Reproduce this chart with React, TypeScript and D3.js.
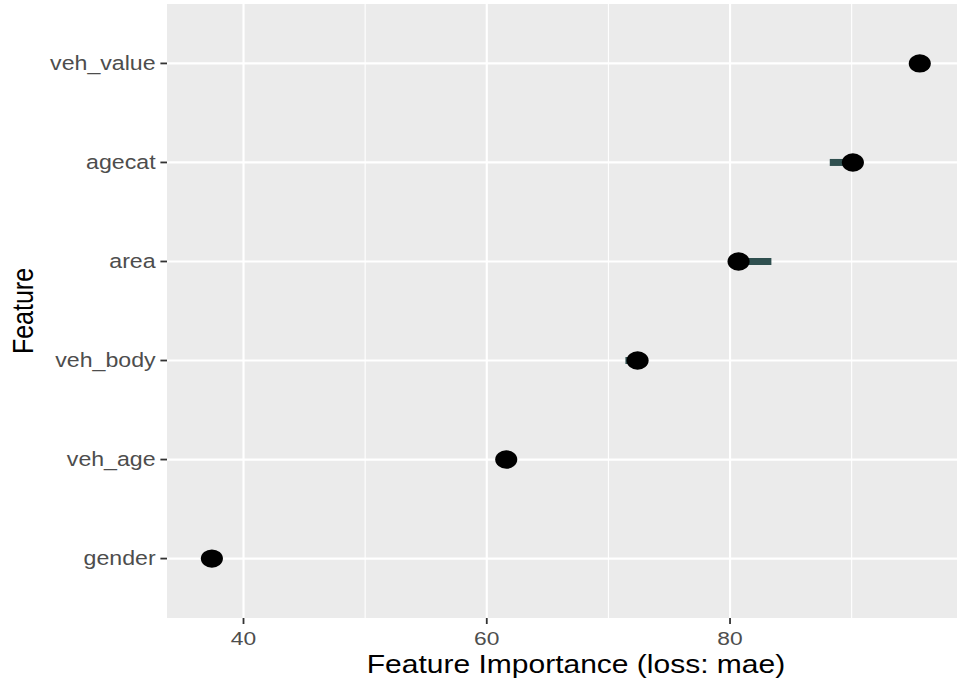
import React from 'react';
import { scaleLinear, scalePoint } from 'd3';

// Data (bottom to top)
const features = ['gender', 'veh_age', 'veh_body', 'area', 'agecat', 'veh_value'];
const importance = [37.4, 61.6, 72.4, 80.7, 90.1, 95.6];
const rangeLow = [37.1, 61.3, 71.4, 80.4, 88.2, 95.3];
const rangeHigh = [37.7, 61.9, 72.8, 83.4, 90.3, 96.0];
const xTickValues = [40, 60, 80];
const xMinorValues = [50, 70, 90];

// the picture is stretched horizontally, so draw in a narrower viewBox
const W = 957;
const H = 682;
const SX = 1.2;
const VW = W / SX;

const panel = { left: 167 / SX, right: VW, top: 4, bottom: 618 };
const font = '"Liberation Sans", Arial, Helvetica, sans-serif';

const App = () => {
  const xScale = scaleLinear().domain([33.71, 98.66]).range([panel.left, panel.right]);
  const yScale = scalePoint<string>()
    .domain([...features].reverse())
    .range([panel.top, panel.bottom])
    .padding(0.6);

  return (
    <svg
      width={W}
      height={H}
      viewBox={`0 0 ${VW} ${H}`}
      preserveAspectRatio="none"
      style={{ position: 'absolute', left: 0, top: 0, background: '#fff' }}
    >
      {/* panel */}
      <rect
        x={panel.left}
        y={panel.top}
        width={panel.right - panel.left}
        height={panel.bottom - panel.top}
        fill="#EBEBEB"
      />
      {/* minor grid */}
      {xMinorValues.map((v) => (
        <line
          key={'mn' + v}
          x1={xScale(v)}
          x2={xScale(v)}
          y1={panel.top}
          y2={panel.bottom}
          stroke="#fff"
          strokeWidth={0.9}
        />
      ))}
      {/* major grid */}
      {xTickValues.map((v) => (
        <line
          key={'mj' + v}
          x1={xScale(v)}
          x2={xScale(v)}
          y1={panel.top}
          y2={panel.bottom}
          stroke="#fff"
          strokeWidth={1.8}
        />
      ))}
      {features.map((f) => (
        <line
          key={'gy' + f}
          x1={panel.left}
          x2={panel.right}
          y1={yScale(f)}
          y2={yScale(f)}
          stroke="#fff"
          strokeWidth={2.2}
        />
      ))}

      {/* ranges */}
      {features.map((f, i) => (
        <line
          key={'rg' + f}
          x1={xScale(rangeLow[i])}
          x2={xScale(rangeHigh[i])}
          y1={yScale(f)}
          y2={yScale(f)}
          stroke="#2F4F4F"
          strokeWidth={7}
        />
      ))}
      {/* points */}
      {features.map((f, i) => (
        <circle key={'pt' + f} cx={xScale(importance[i])} cy={yScale(f)} r={9.2} fill="#000" />
      ))}

      {/* y axis */}
      {features.map((f) => (
        <g key={'yt' + f}>
          <line
            x1={panel.left - 5.5}
            x2={panel.left}
            y1={yScale(f)}
            y2={yScale(f)}
            stroke="#333"
            strokeWidth={1.8}
          />
          <text
            x={panel.left - 9.5}
            y={yScale(f)}
            dy="0.35em"
            textAnchor="end"
            fontFamily={font}
            fontSize={19.3}
            fill="#4D4D4D"
          >
            {f}
          </text>
        </g>
      ))}

      {/* x axis */}
      {xTickValues.map((v) => (
        <g key={'xt' + v}>
          <line
            x1={xScale(v)}
            x2={xScale(v)}
            y1={panel.bottom}
            y2={panel.bottom + 6}
            stroke="#333"
            strokeWidth={1.5}
          />
          <text
            x={xScale(v)}
            y={645}
            textAnchor="middle"
            fontFamily={font}
            fontSize={19}
            fill="#4D4D4D"
          >
            {v}
          </text>
        </g>
      ))}

      {/* titles */}
      <text
        x={480}
        y={673}
        textAnchor="middle"
        fontFamily={font}
        fontSize={25}
        fill="#000"
      >
        Feature Importance (loss: mae)
      </text>
      <text
        transform={`translate(27.5, ${(panel.top + panel.bottom) / 2}) rotate(-90)`}
        textAnchor="middle"
        fontFamily={font}
        fontSize={25}
        fill="#000"
      >
        Feature
      </text>
    </svg>
  );
};

export default App;
